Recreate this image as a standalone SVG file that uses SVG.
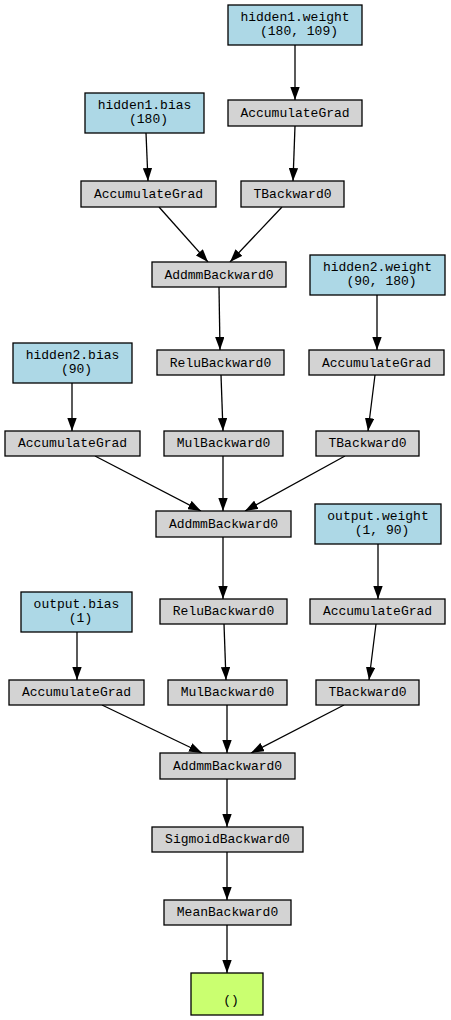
<svg xmlns="http://www.w3.org/2000/svg" width="451" height="1020" viewBox="0 0 451 1020">
<style>
rect{stroke:#000;stroke-width:1.3}
.p{fill:#add8e6}.o{fill:#d3d3d3}.r{fill:#caff70}
text{font-family:"Liberation Mono","DejaVu Sans Mono",monospace;font-size:13px;text-anchor:middle;fill:#000}
#edges line{stroke:#000;stroke-width:1.3;marker-end:url(#ah)}
</style>
<defs>
<marker id="ah" viewBox="0 0 13 9.4" refX="13" refY="4.7" markerWidth="13" markerHeight="9.4" markerUnits="userSpaceOnUse" orient="auto">
<path d="M0,0 L13,4.7 L0,9.4 z" fill="#000"/>
</marker>
</defs>
<rect width="451" height="1020" fill="#fff" style="stroke:none"/>
<g id="edges">
<line x1="295" y1="45" x2="295" y2="100"/>
<line x1="146" y1="133" x2="148" y2="181"/>
<line x1="295" y1="126" x2="293" y2="181"/>
<line x1="159" y1="207" x2="208" y2="262"/>
<line x1="282" y1="207" x2="230" y2="262"/>
<line x1="219" y1="287" x2="220" y2="350"/>
<line x1="377" y1="295" x2="377" y2="350"/>
<line x1="72" y1="383" x2="72" y2="431"/>
<line x1="221" y1="375" x2="223" y2="431"/>
<line x1="375" y1="375" x2="368" y2="431"/>
<line x1="95" y1="456" x2="201" y2="511"/>
<line x1="223" y1="456" x2="223" y2="511"/>
<line x1="345" y1="456" x2="245" y2="511"/>
<line x1="223" y1="537" x2="223" y2="599"/>
<line x1="378" y1="544" x2="378" y2="599"/>
<line x1="77" y1="632" x2="77" y2="680"/>
<line x1="224" y1="624" x2="226" y2="680"/>
<line x1="376" y1="624" x2="369" y2="680"/>
<line x1="102" y1="705" x2="202" y2="753"/>
<line x1="227" y1="705" x2="227" y2="753"/>
<line x1="344" y1="705" x2="251" y2="753"/>
<line x1="227" y1="779" x2="227" y2="827"/>
<line x1="227" y1="852" x2="227" y2="900"/>
<line x1="227" y1="925" x2="227" y2="973"/>
</g>
<g id="n1"><rect class="p" x="228" y="5" width="134" height="40"/><text x="295" y="21">hidden1.weight</text><text x="299" y="35">(180, 109)</text></g>
<g id="n2"><rect class="p" x="85" y="93" width="119" height="40"/><text x="144.5" y="109">hidden1.bias</text><text x="148.5" y="123">(180)</text></g>
<g id="n3"><rect class="o" x="228" y="100" width="134" height="26"/><text x="295" y="117">AccumulateGrad</text></g>
<g id="n4"><rect class="o" x="81" y="181" width="135" height="26"/><text x="148.5" y="198">AccumulateGrad</text></g>
<g id="n5"><rect class="o" x="241" y="181" width="103" height="26"/><text x="292.5" y="198">TBackward0</text></g>
<g id="n6"><rect class="o" x="152" y="262" width="134" height="25"/><text x="219" y="279">AddmmBackward0</text></g>
<g id="n7"><rect class="p" x="310" y="255" width="135" height="40"/><text x="377.5" y="271">hidden2.weight</text><text x="381.5" y="285">(90, 180)</text></g>
<g id="n8"><rect class="o" x="157" y="350" width="127" height="25"/><text x="220.5" y="367">ReluBackward0</text></g>
<g id="n9"><rect class="o" x="309" y="350" width="135" height="25"/><text x="376.5" y="367">AccumulateGrad</text></g>
<g id="n10"><rect class="p" x="13" y="343" width="119" height="40"/><text x="72.5" y="359">hidden2.bias</text><text x="76.5" y="373">(90)</text></g>
<g id="n11"><rect class="o" x="5" y="431" width="135" height="25"/><text x="72.5" y="447">AccumulateGrad</text></g>
<g id="n12"><rect class="o" x="164" y="431" width="119" height="25"/><text x="223.5" y="447">MulBackward0</text></g>
<g id="n13"><rect class="o" x="316" y="431" width="103" height="25"/><text x="367.5" y="447">TBackward0</text></g>
<g id="n14"><rect class="o" x="156" y="511" width="135" height="26"/><text x="223.5" y="528">AddmmBackward0</text></g>
<g id="n15"><rect class="p" x="315" y="504" width="126" height="40"/><text x="378" y="520">output.weight</text><text x="382" y="534">(1, 90)</text></g>
<g id="n16"><rect class="o" x="160" y="599" width="127" height="25"/><text x="223.5" y="615">ReluBackward0</text></g>
<g id="n17"><rect class="o" x="310" y="599" width="135" height="25"/><text x="377.5" y="615">AccumulateGrad</text></g>
<g id="n18"><rect class="p" x="21" y="592" width="111" height="40"/><text x="76.5" y="608">output.bias</text><text x="80.5" y="622">(1)</text></g>
<g id="n19"><rect class="o" x="9" y="680" width="135" height="25"/><text x="76.5" y="696">AccumulateGrad</text></g>
<g id="n20"><rect class="o" x="168" y="680" width="119" height="25"/><text x="227.5" y="696">MulBackward0</text></g>
<g id="n21"><rect class="o" x="316" y="680" width="103" height="25"/><text x="367.5" y="696">TBackward0</text></g>
<g id="n22"><rect class="o" x="160" y="753" width="135" height="26"/><text x="227.5" y="770">AddmmBackward0</text></g>
<g id="n23"><rect class="o" x="152" y="827" width="151" height="25"/><text x="227.5" y="843">SigmoidBackward0</text></g>
<g id="n24"><rect class="o" x="164" y="900" width="127" height="25"/><text x="227.5" y="916">MeanBackward0</text></g>
<g id="n25"><rect class="r" x="191" y="973" width="72" height="42"/><text x="231" y="1004">()</text></g>
</svg>
